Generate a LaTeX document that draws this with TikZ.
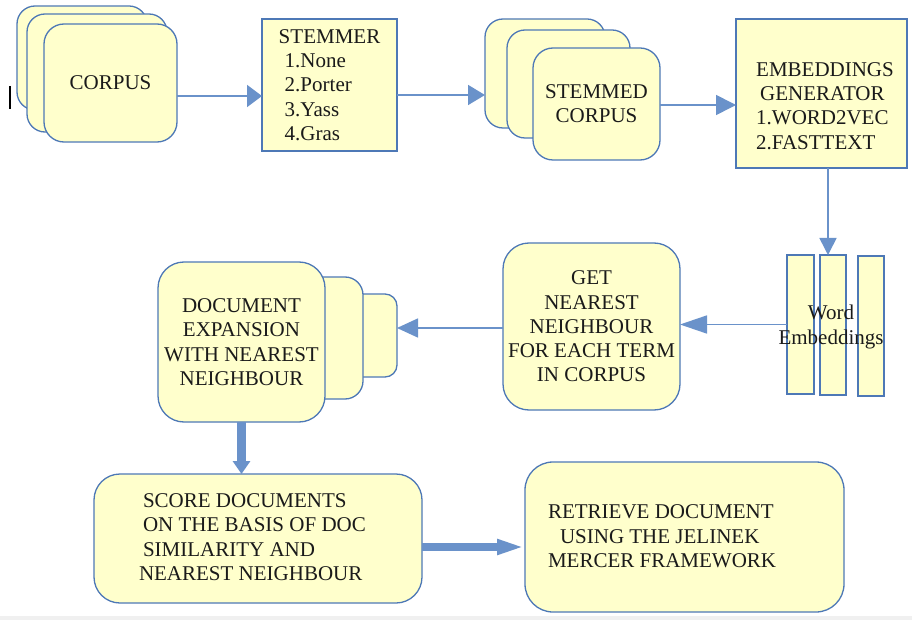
\documentclass[tikz,border=0pt]{standalone}
\usepackage{fontspec}
\setmainfont{Liberation Serif}
\newfontfamily\diagfont{Liberation Serif}
\usetikzlibrary{arrows.meta}
\definecolor{boxfill}{HTML}{FFFFCC}
\definecolor{boxline}{HTML}{4D78B6}
\definecolor{arrowblue}{HTML}{6A92CA}
\definecolor{inkdark}{HTML}{1A1A1A}
\begin{document}
\begin{tikzpicture}[x=1pt,y=-1pt,
  every node/.style={outer sep=0pt, inner sep=0pt, text=inkdark,
    font=\diagfont\fontsize{21}{24.3}\selectfont},
  card/.style={draw=boxline, fill=boxfill, line width=1.3pt, rectangle},
  rcard/.style={card, rounded corners=#1},
  conn/.style n args={2}{draw=arrowblue, line width=1.6pt,
    -{Triangle[length=#1, width=#2]}},
  bigconn/.style n args={3}{draw=arrowblue, line width=#1,
    -{Triangle[length=#2, width=#3]}}]

\useasboundingbox (0,0) rectangle (912,620);
\fill[white] (0,0) rectangle (912,620);
\fill[black!6] (0,616) rectangle (912,620);

% text cursor mark
\draw[black, line width=2pt] (10,86) -- (10,109);

% CORPUS stack
\node[rcard=18pt, minimum width=130pt, minimum height=104pt] (cback) at (82,58) {};
\node[rcard=18pt, minimum width=140pt, minimum height=118pt] (cmid) at (97,73) {};
\node[rcard=20pt, minimum width=133pt, minimum height=118pt] (corpus) at (110.5,83) {CORPUS};

% stemmer box
\node[card, minimum width=135pt, minimum height=132pt, align=left] (stemmer) at (329.5,85)
  {STEMMER\\\hspace*{6pt}1.None\\\hspace*{6pt}2.Porter\\\hspace*{6pt}3.Yass\\\hspace*{6pt}4.Gras};

% STEMMED CORPUS stack
\node[rcard=18pt, minimum width=120pt, minimum height=109pt] (sback) at (545,73.5) {};
\node[rcard=18pt, minimum width=123pt, minimum height=108pt] (smid) at (568.5,84) {};
\node[rcard=20pt, minimum width=127pt, minimum height=112pt, align=center] (sfront) at (596.5,104)
  {STEMMED\\CORPUS};

% embeddings generator
\node[card, minimum width=171pt, minimum height=149pt] (emb) at (821.5,93.5) {};
\node[align=left] (embtxt) at (825,106)
  {EMBEDDINGS\\\hspace*{4pt}GENERATOR\\1.WORD2VEC\\2.FASTTEXT};

% word embedding vectors
\node[card, minimum width=27pt, minimum height=139pt] (we1) at (800.5,324.5) {};
\node[card, minimum width=26pt, minimum height=140pt] (we2) at (833,325) {};
\node[card, minimum width=26pt, minimum height=140pt] (we3) at (871,326) {};
\node[align=center] (wetxt) at (831,327) {Word\\Embeddings};

% nearest neighbour lookup
\node[rcard=26pt, minimum width=177pt, minimum height=167pt, align=center] (get) at (591.5,326.5)
  {GET\\NEAREST\\NEIGHBOUR\\FOR EACH TERM\\IN CORPUS};

% document expansion stack
\node[rcard=12pt, minimum width=57pt, minimum height=83pt] (dback) at (368.5,335.5) {};
\node[rcard=18pt, minimum width=63pt, minimum height=122pt] (dmid) at (331.5,338) {};
\node[rcard=26pt, minimum width=167pt, minimum height=160pt, align=center] (dfront) at (241.5,342)
  {DOCUMENT\\EXPANSION\\WITH NEAREST\\NEIGHBOUR};

% scoring
\node[rcard=26pt, minimum width=328pt, minimum height=129pt] (score) at (258,538.5) {};
\node[align=left, anchor=west] (scoretxt) at (139,537)
  {\hspace*{4pt}SCORE DOCUMENTS\\\hspace*{4pt}ON THE BASIS OF DOC\\\hspace*{4pt}SIMILARITY AND\\NEAREST NEIGHBOUR};

% retrieval
\node[rcard=28pt, minimum width=319pt, minimum height=150pt] (retr) at (684.5,537) {};
\node[align=left, anchor=west] (retrtxt) at (548,536.5)
  {RETRIEVE DOCUMENT\\\hspace*{12pt}USING THE JELINEK\\MERCER FRAMEWORK};

% connectors
\draw[conn={15pt}{22pt}] ([yshift=-13pt]corpus.east) -- ([yshift=-13pt]corpus.east -| stemmer.west);
\draw[conn={17pt}{20pt}] ([yshift=-10pt]stemmer.east) -- ([yshift=-10pt]stemmer.east -| sback.west);
\draw[conn={20pt}{20pt}] ([yshift=-1pt]sfront.east) -- ([yshift=-1pt]sfront.east -| emb.west);
\draw[conn={17pt}{17pt}] ([xshift=6.5pt]emb.south) -- ([xshift=6.5pt]emb.south |- we2.north);
\draw[conn={27pt}{18pt}] (we1.west) -- (we1.west -| get.east);
\draw[conn={21pt}{19pt}] ([yshift=-1.5pt]get.west) -- ([yshift=-1.5pt]get.west -| dback.east);
\draw[bigconn={9pt}{13pt}{17pt}] (dfront.south) -- (dfront.south |- score.north);
\draw[bigconn={8pt}{28pt}{14pt}] ([yshift=-8.5pt]score.east) -- ([yshift=-8.5pt]score.east -| retr.west);
\end{tikzpicture}
\end{document}
